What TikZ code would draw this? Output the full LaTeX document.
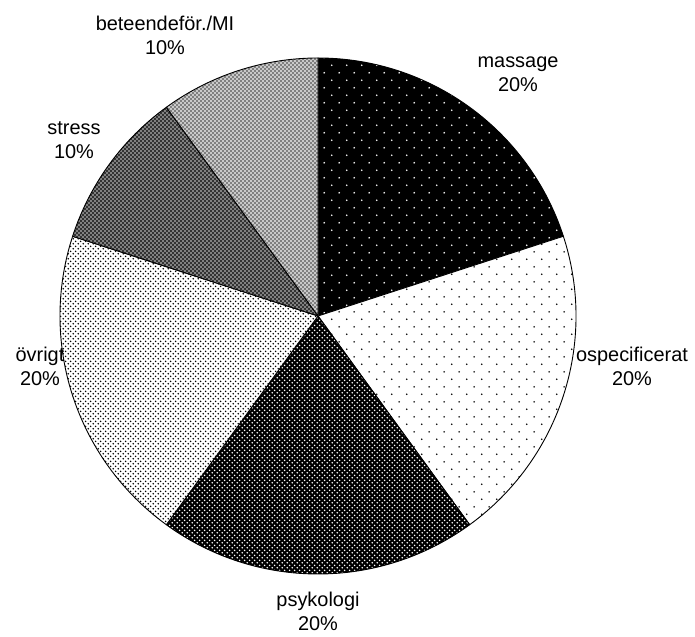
\documentclass[tikz,border=0pt]{standalone}
\usepackage{fontspec}
\setmainfont{Liberation Sans}
\usepackage{tikz}
\usetikzlibrary{patterns,calc}

% dot and hatch fills of the slices
\pgfdeclarepatternformonly{bigdots}{\pgfqpoint{0pt}{0pt}}{\pgfqpoint{15pt}{15pt}}{\pgfqpoint{15pt}{15pt}}{%
  \pgfpathcircle{\pgfqpoint{3.75pt}{3.75pt}}{0.9pt}%
  \pgfpathcircle{\pgfqpoint{11.25pt}{11.25pt}}{0.9pt}%
  \pgfusepath{fill}}
\pgfdeclarepatternformonly{smalldots}{\pgfqpoint{0pt}{0pt}}{\pgfqpoint{5.4pt}{5.4pt}}{\pgfqpoint{5.4pt}{5.4pt}}{%
  \pgfpathcircle{\pgfqpoint{1.35pt}{1.35pt}}{0.95pt}%
  \pgfpathcircle{\pgfqpoint{4.05pt}{4.05pt}}{0.95pt}%
  \pgfusepath{fill}}
\pgfdeclarepatternformonly{xhatch}{\pgfqpoint{0pt}{0pt}}{\pgfqpoint{4pt}{4pt}}{\pgfqpoint{4pt}{4pt}}{%
  \pgfsetlinewidth{0.8pt}%
  \pgfpathmoveto{\pgfqpoint{0pt}{0pt}}\pgfpathlineto{\pgfqpoint{4pt}{4pt}}%
  \pgfpathmoveto{\pgfqpoint{0pt}{4pt}}\pgfpathlineto{\pgfqpoint{4pt}{0pt}}%
  \pgfusepath{stroke}}

\begin{document}
\begin{tikzpicture}[x=1bp,y=1bp,
  lbl/.style={align=center,font=\fontsize{20}{24}\selectfont},
  rim/.style={draw=black,line width=0.9bp,line join=round}
]
\useasboundingbox (0,0) rectangle (695,637);
\coordinate (ctr) at (318,321);

% slices: start angle / end angle / base fill / pattern / dot colour
\foreach \a/\b/\base/\pat/\dot in {
    90/18/black/bigdots/white,
    18/-54/white/bigdots/black,
    -54/-126/black/smalldots/white,
    -126/-198/white/smalldots/black,
    -198/-234/black!40/xhatch/black!80,
    -234/-270/black!12/xhatch/black!50}{
  \fill[\base] (ctr) -- ++(\a:258bp) arc[start angle=\a,end angle=\b,radius=258bp] -- cycle;
  \fill[pattern=\pat,pattern color=\dot] (ctr) -- ++(\a:258bp) arc[start angle=\a,end angle=\b,radius=258bp] -- cycle;
  \draw[rim] (ctr) -- ++(\a:258bp) arc[start angle=\a,end angle=\b,radius=258bp] -- cycle;
}

\node[lbl] (massage) at (518,563) {massage\\20\%};
\node[lbl] (ospec) at (632,271) {ospecificerat\\20\%};
\node[lbl] (psyk) at (318,26) {psykologi\\20\%};
\node[lbl] (ovrigt) at (40,271) {övrigt\\20\%};
\node[lbl] (stress) at (74,497) {stress\\10\%};
\node[lbl] (beteende) at (165,602) {beteendeför./MI\\10\%};
\end{tikzpicture}
\end{document}
